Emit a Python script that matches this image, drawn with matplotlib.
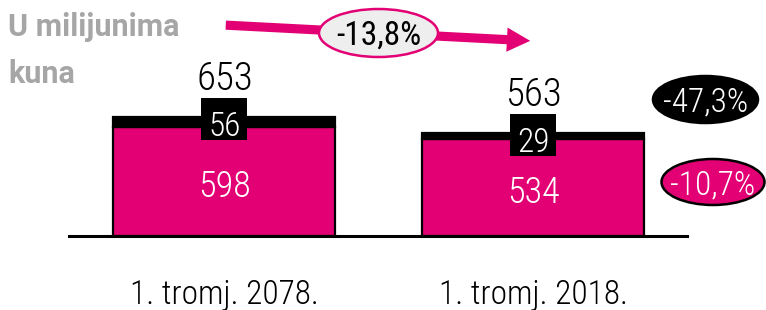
import matplotlib.pyplot as plt
from matplotlib.patches import Ellipse, FancyArrowPatch, Rectangle

W, H = 766, 310
MAGENTA = "#e20074"
FONT = ["Roboto Condensed", "Archivo Narrow", "DejaVu Sans"]

categories = ["1. tromj. 2078.", "1. tromj. 2018."]
base_values = [598, 534]
top_values = [56, 29]
totals = [653, 563]
change_total = "-13,8%"
change_top = "-47,3%"
change_base = "-10,7%"
title_lines = ["U milijunima", "kuna"]

plt.rcParams["font.family"] = FONT

fig = plt.figure(figsize=(W / 100, H / 100), dpi=100)
ax = fig.add_axes([0, 0, 1, 1])
# 309 px per category step, 0.1815 px per value unit, baseline 74.5 px above bottom
PX_X, PX_Y = 309.0, 0.1815
ax.set_xlim(-224.5 / PX_X, (W - 224.5) / PX_X)
ax.set_ylim(-74.5 / PX_Y, (H - 74.5) / PX_Y)
ax.axis("off")

x = list(range(len(categories)))
ax.bar(x, base_values, width=222 / PX_X, color=MAGENTA, edgecolor="black", linewidth=1.6)
ax.bar(x, top_values, bottom=base_values, width=222 / PX_X, color="black",
       edgecolor="black", linewidth=1.6)
ax.axhline(0, xmin=69 / W, xmax=687 / W, color="black", lw=2.2)

for xi, b, t, tot, cat in zip(x, base_values, top_values, totals, categories):
    ax.annotate(str(tot), (xi, tot), xytext=(0, 19.5), textcoords="offset points",
                ha="center", va="baseline", fontsize=28, fontweight=300, color="black")
    ax.annotate(str(b), (xi, b / 2), xytext=(0, -11.5), textcoords="offset points",
                ha="center", va="baseline", fontsize=26, fontweight=300, color="white")
    # black tag behind the small top value
    ax.add_patch(Rectangle((xi - 23 / PX_X, tot - 23 / PX_Y), 46 / PX_X, 42 / PX_Y,
                           fc="black", ec="none", zorder=3))
    ax.annotate(str(t), (xi, tot), xytext=(0, -13.8), textcoords="offset points",
                ha="center", va="baseline", fontsize=24, fontweight=300,
                color="white", zorder=4)
    ax.annotate(cat, (xi, 0), xytext=(0, -49), textcoords="offset points",
                ha="center", va="baseline", fontsize=24, fontweight=300, color="black")


def fpx(px, py):
    # pixel position measured from top-left -> figure fraction
    return px / W, 1 - py / H


for line, base in zip(title_lines, (36, 83)):
    fig.text(*fpx(8, base), line, fontsize=22, fontweight="bold",
             family=["Roboto", "DejaVu Sans"], color="#a6a6a6",
             ha="left", va="baseline")

arrow = FancyArrowPatch(fpx(223, 25), fpx(533, 41), transform=fig.transFigure,
                        arrowstyle="simple,tail_width=0.55,head_width=1.45,head_length=1.4",
                        mutation_scale=12, color=MAGENTA, lw=0)
fig.add_artist(arrow)


def badge(cx, cy, w, h, text, fc, ec, tc, weight=300):
    e = Ellipse(fpx(cx, cy), w / W, h / H, transform=fig.transFigure,
                fc=fc, ec=ec, lw=1.8)
    fig.add_artist(e)
    fig.text(*fpx(cx, cy + 12), text, fontsize=24, fontweight=weight, color=tc,
             ha="center", va="baseline")


badge(378.5, 33, 119, 48, change_total, "#eeeeee", MAGENTA, "black", weight=400)
badge(705.5, 99.5, 105, 47, change_top, "black", "black", "white")
badge(713, 182, 103, 46, change_base, MAGENTA, "black", "white")

fig.savefig("out.png", dpi=100)
